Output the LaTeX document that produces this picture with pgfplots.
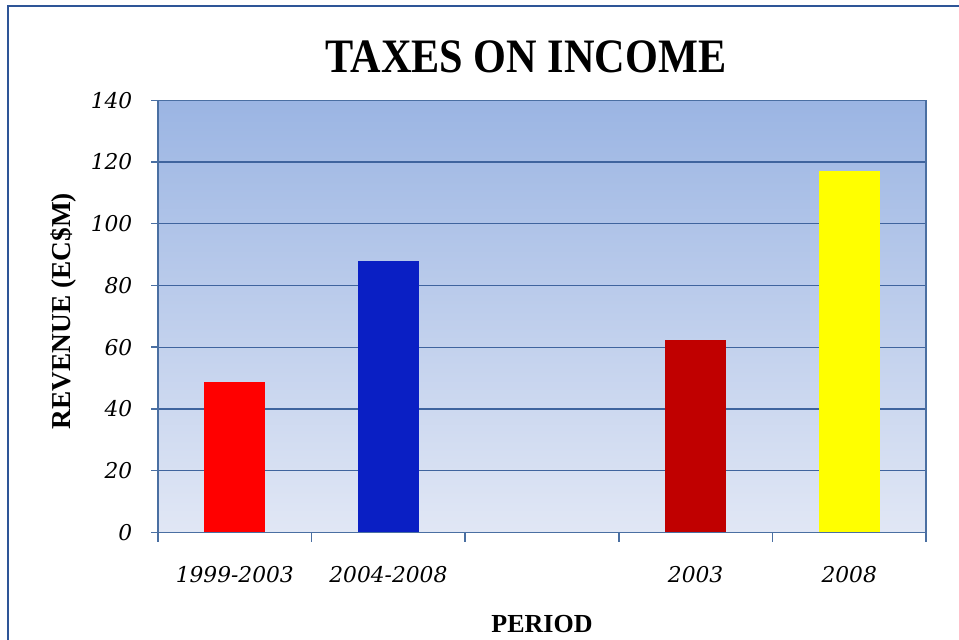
\documentclass[border=0pt]{standalone}
\usepackage{pgfplots}
\pgfplotsset{compat=1.18}
\usepackage{fontspec}
\setmainfont{Liberation Serif}
\newfontfamily\tickfont{DejaVu Serif}
\definecolor{frameblue}{HTML}{2E5597}
\definecolor{axblue}{HTML}{4A6FA2}
\definecolor{gridblue}{HTML}{3F649E}
\definecolor{bgtop}{HTML}{9BB5E3}
\definecolor{bgbot}{HTML}{E1E7F5}
\definecolor{barred}{HTML}{FF0000}
\definecolor{barblue}{HTML}{0A1FC4}
\definecolor{bardred}{HTML}{C00000}
\definecolor{baryel}{HTML}{FFFF00}
\begin{document}
\begin{tikzpicture}
\useasboundingbox (0pt,0pt) rectangle (719.25pt,479.25pt);
\fill[white] (0pt,0pt) rectangle (719.25pt,479.25pt);
\draw[frameblue, line width=1.2pt] (6pt,-2pt) -- (6pt,474.75pt) -- (722pt,474.75pt);
\begin{axis}[
  at={(118.5pt,80pt)}, anchor=south west,
  width=576pt, height=324pt, scale only axis,
  xmin=-0.5, xmax=4.5, ymin=0, ymax=140,
  ytick={0,20,...,140},
  xtick={0,1,3,4},
  xticklabels={1999-2003,2004-2008,2003,2008},
  minor xtick={-0.5,0.5,1.5,2.5,3.5,4.5},
  ymajorgrids,
  grid style={gridblue, line width=0.9pt},
  axis line style={axblue, line width=1.1pt},
  tick style={axblue, line width=1.1pt},
  tick align=outside,
  xtick pos=bottom, ytick pos=left,
  major tick length=5.25pt,
  x tick style={draw=none},
  minor x tick style={axblue, line width=1.1pt, draw=axblue},
  minor tick length=7pt,
  /pgf/number format/assume math mode=true,
  tick label style={font=\tickfont\itshape\fontsize{16.3}{19}\selectfont, black},
  xticklabel style={yshift=-17pt},
  yticklabel style={xshift=-10.5pt},
  axis background/.style={shade, top color=bgtop, bottom color=bgbot},
  ybar, bar width=46pt, bar shift=0pt,
  axis on top=false,
  clip=false,
]
\addplot[fill=barred, draw=none] coordinates {(0,48.8)};
\addplot[fill=barblue, draw=none] coordinates {(1,87.8)};
\addplot[fill=bardred, draw=none] coordinates {(3,62.4)};
\addplot[fill=baryel, draw=none] coordinates {(4,117.0)};
\end{axis}
\node[anchor=base, inner sep=0pt] at (394.5pt,425pt) {\scalebox{0.88}[1]{\fontsize{36}{40}\selectfont\bfseries TAXES ON INCOME}};
\node[anchor=base, inner sep=0pt, rotate=90] at (53pt,246pt) {\fontsize{20.5}{23}\selectfont\bfseries REVENUE (EC\$M)};
\node[anchor=base, inner sep=0pt] at (406.5pt,5.25pt) {\fontsize{19.5}{22}\selectfont\bfseries PERIOD};
\end{tikzpicture}
\end{document}
